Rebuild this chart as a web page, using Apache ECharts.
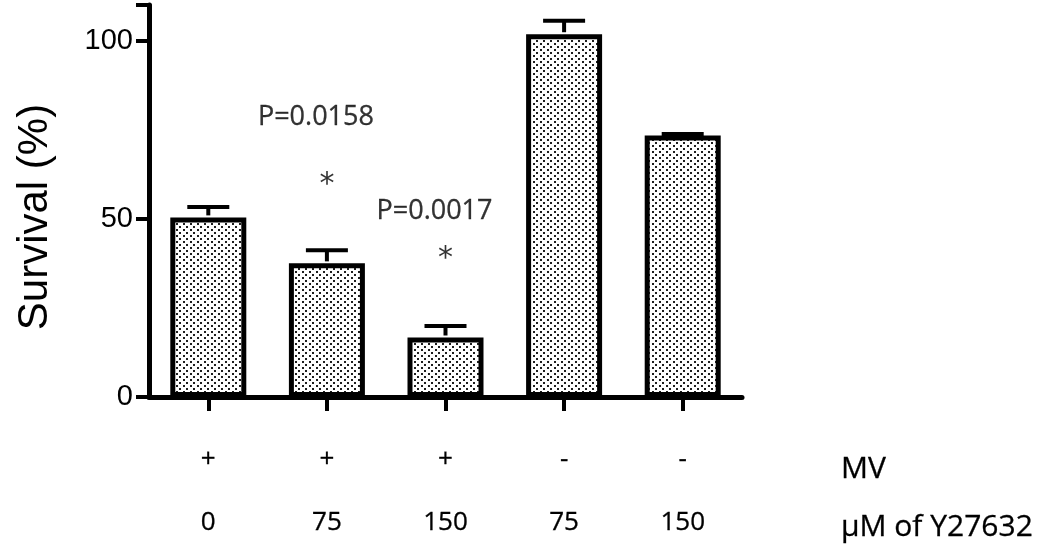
<!DOCTYPE html>
<html>
<head>
<meta charset="utf-8">
<script src="https://cdn.jsdelivr.net/npm/echarts@6/dist/echarts.min.js"></script>
<style>
html,body{margin:0;padding:0;background:#fff;}
#chart{width:1050px;height:552px;}
</style>
</head>
<body>
<div id="chart"></div>
<script>
// ---- data ----
var categories = ['MV+ 0', 'MV+ 75', 'MV+ 150', 'MV- 75', 'MV- 150'];
var mvRow = ['+', '+', '+', '-', '-'];
var doseRow = ['0', '75', '150', '75', '150'];
var survival = [50.4, 37.5, 16.7, 101.8, 73.4];
var errorTop = [53.3, 41.2, 19.9, 105.6, 73.8];
var yTicks = [0, 50, 100];
var pLabels = [
  { cat: 1, text: 'P=0.0158', y: 78.4 },
  { cat: 2, text: 'P=0.0017', y: 52.2 }
];
var starLabels = [
  { cat: 1, text: '*', y: 59.3 },
  { cat: 2, text: '*', y: 38.8 }
];

// ---- dot pattern ----
function makePattern() {
  var c = document.createElement('canvas');
  c.width = 7; c.height = 6;
  var ctx = c.getContext('2d');
  ctx.fillStyle = '#ffffff';
  ctx.fillRect(0, 0, 7, 6);
  ctx.fillStyle = '#1e1e1e';
  ctx.fillRect(1, 1, 2, 2);
  ctx.fillRect(4, 4, 2, 2);
  return c;
}
var pattern = { image: makePattern(), repeat: 'repeat' };

var chart = echarts.init(document.getElementById('chart'), null, { renderer: 'canvas' });

var textFont = '"Open Sans", Lato, "Noto Sans", sans-serif';
var arialFont = '"Liberation Sans", Arial, sans-serif';
var thick = { textBorderColor: '#000', textBorderWidth: 0.3 };

var option = {
  animation: false,
  backgroundColor: '#ffffff',
  grid: { left: 149, right: 308, top: 5, bottom: 155, containLabel: false },
  xAxis: {
    type: 'category',
    data: categories,
    boundaryGap: true,
    axisLine: { show: true, lineStyle: { color: '#000', width: 5 } },
    axisTick: { show: true, alignWithLabel: true, length: 14, lineStyle: { color: '#000', width: 4 } },
    axisLabel: {
      margin: 31,
      interval: 0,
      formatter: function (v, i) {
        return '{a|' + mvRow[i] + '}\n{b|' + doseRow[i] + '}';
      },
      rich: {
        a: Object.assign({ fontFamily: textFont, fontSize: 26, color: '#000', lineHeight: 63 }, thick),
        b: Object.assign({ fontFamily: textFont, fontSize: 26, color: '#000', lineHeight: 63 }, thick)
      }
    },
    splitLine: { show: false }
  },
  yAxis: {
    type: 'value',
    min: 0,
    max: 110,
    interval: 50,
    axisLine: { show: true, onZero: false, lineStyle: { color: '#000', width: 5 } },
    axisTick: { show: true, length: 13, lineStyle: { color: '#000', width: 4 } },
    axisLabel: {
      margin: 16,
      fontFamily: arialFont,
      fontSize: 29,
      color: '#000',
      formatter: function (v) { return yTicks.indexOf(v) >= 0 ? String(v) : ''; }
    },
    splitLine: { show: false }
  },
  graphic: [
    {
      type: 'text',
      x: 841, y: 469,
      style: { text: 'MV', fontFamily: textFont, fontSize: 30, fill: '#000', stroke: '#000', lineWidth: 0.3, verticalAlign: 'middle' }
    },
    {
      type: 'text',
      x: 841, y: 527,
      style: { text: 'μM of Y27632', fontFamily: textFont, fontSize: 30, fill: '#000', stroke: '#000', lineWidth: 0.3, verticalAlign: 'middle' }
    },
    {
      type: 'text',
      x: 35, y: 217, rotation: Math.PI / 2,
      style: {
        text: 'Survival (%)', fontFamily: arialFont, fontSize: 42,
        fill: '#000', align: 'center', verticalAlign: 'middle'
      }
    }
  ],
  series: [
    {
      type: 'bar',
      data: survival,
      barWidth: 76,
      itemStyle: { color: pattern, borderColor: '#000', borderWidth: 5 },
      z: 2
    },
    {
      type: 'custom',
      z: 3,
      data: survival.map(function (v, i) { return [i, v, errorTop[i]]; }),
      renderItem: function (params, api) {
        var base = api.coord([api.value(0), api.value(1)]);
        var top = api.coord([api.value(0), api.value(2)]);
        var halfCap = 21;
        return {
          type: 'group',
          children: [
            { type: 'line', shape: { x1: base[0], y1: base[1] - 2, x2: top[0], y2: top[1] },
              style: { stroke: '#000', lineWidth: 4 } },
            { type: 'line', shape: { x1: top[0] - halfCap, y1: top[1], x2: top[0] + halfCap, y2: top[1] },
              style: { stroke: '#000', lineWidth: 4 } }
          ]
        };
      }
    },
    {
      type: 'scatter',
      symbolSize: 0,
      z: 4,
      data: pLabels.map(function (p) { return { value: [p.cat, p.y], name: p.text }; }),
      label: Object.assign({
        show: true, position: 'inside', offset: [-11, 0],
        formatter: function (p) { return p.name; },
        fontFamily: textFont, fontSize: 27, color: '#000'
      }, thick)
    },
    {
      type: 'scatter',
      symbolSize: 0,
      z: 4,
      data: starLabels.map(function (p) { return { value: [p.cat, p.y], name: p.text }; }),
      label: {
        show: true, position: 'inside',
        formatter: function (p) { return p.name; },
        fontFamily: '"DejaVu Sans", sans-serif', fontSize: 30, color: '#000'
      }
    }
  ]
};
chart.setOption(option);
</script>
</body>
</html>
